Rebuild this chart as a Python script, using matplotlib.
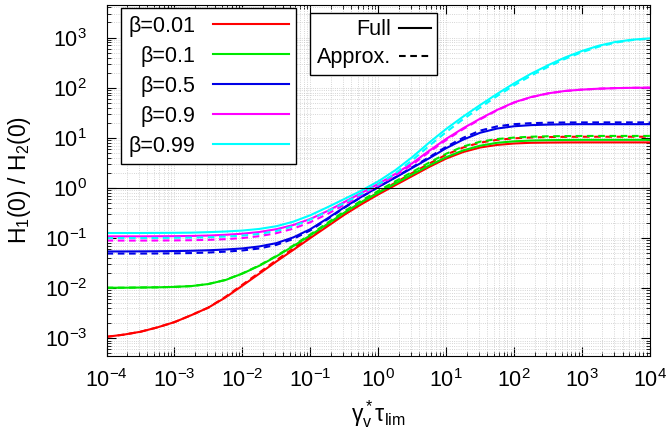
import numpy as np
import matplotlib.pyplot as plt
from matplotlib.lines import Line2D
from matplotlib.ticker import LogLocator, NullFormatter

plt.rcParams['font.family'] = ['Liberation Sans', 'DejaVu Sans']
plt.rcParams['mathtext.fontset'] = 'custom'
plt.rcParams['mathtext.rm'] = 'Liberation Sans'
plt.rcParams['mathtext.it'] = 'Liberation Sans'
plt.rcParams['mathtext.default'] = 'regular'

x = [1e-4, 1.78e-4, 3.16e-4, 5.62e-4,
     1e-3, 1.78e-3, 3.16e-3, 5.62e-3,
     1e-2, 1.78e-2, 3.16e-2, 5.62e-2,
     0.1, 0.178, 0.316, 0.562,
     1.0, 1.78, 3.16, 5.62,
     10.0, 17.8, 31.6, 56.2,
     100.0, 178.0, 316.0, 562.0,
     1e3, 1.78e3, 3.16e3, 5.62e3, 1e4]

labels = ['β=0.01', 'β=0.1', 'β=0.5', 'β=0.9', 'β=0.99']
colors = ['#ff0000', '#00e600', '#0000e6', '#ff00ff', '#00ffff']

full_001 = [1.07e-3, 1.18e-3, 1.35e-3, 1.65e-3, 2.1e-3, 2.9e-3, 4.1e-3, 6.5e-3,
            0.0112, 0.0195, 0.034, 0.058, 0.10, 0.17, 0.29, 0.47,
            0.74, 1.13, 1.72, 2.62, 3.85, 5.2, 6.4, 7.2,
            7.7, 7.95, 8.03, 8.08, 8.1, 8.1, 8.1, 8.1, 8.1]
approx_001 = [1.07e-3, 1.18e-3, 1.35e-3, 1.65e-3, 2.1e-3, 2.9e-3, 4.1e-3, 6.7e-3,
              0.0117, 0.0205, 0.036, 0.062, 0.107, 0.183, 0.31, 0.51,
              0.81, 1.27, 1.98, 3.05, 4.6, 6.4, 8.0, 9.1,
              9.75, 10.15, 10.35, 10.45, 10.5, 10.5, 10.5, 10.5, 10.5]
full_01 = [0.0102, 0.0102, 0.0103, 0.0104, 0.0106, 0.011, 0.0121, 0.0145,
           0.0195, 0.028, 0.043, 0.069, 0.113, 0.19, 0.32, 0.52,
           0.8, 1.22, 1.86, 2.8, 4.1, 5.6, 6.95, 7.95,
           8.5, 8.82, 8.98, 9.05, 9.1, 9.1, 9.1, 9.1, 9.1]
approx_01 = [0.0102, 0.0102, 0.0103, 0.0104, 0.0106, 0.011, 0.0121, 0.0146,
             0.0197, 0.0285, 0.044, 0.071, 0.118, 0.2, 0.34, 0.555,
             0.87, 1.35, 2.08, 3.2, 4.8, 6.7, 8.35, 9.45,
             10.1, 10.5, 10.72, 10.83, 10.88, 10.9, 10.9, 10.9, 10.9]
full_05 = [0.054, 0.054, 0.0542, 0.0545, 0.055, 0.0557, 0.057, 0.059,
           0.062, 0.068, 0.079, 0.103, 0.15, 0.245, 0.41, 0.66,
           1.04, 1.6, 2.5, 3.9, 6.2, 9.2, 12.6, 15.3,
           17.0, 17.9, 18.35, 18.6, 18.7, 18.7, 18.7, 18.7, 18.7]
approx_05 = [0.049, 0.049, 0.049, 0.0492, 0.0495, 0.0501, 0.0514, 0.0535,
             0.0565, 0.062, 0.073, 0.096, 0.142, 0.235, 0.4, 0.655,
             1.04, 1.63, 2.58, 4.1, 6.6, 10.0, 13.9, 16.9,
             18.7, 19.6, 20.0, 20.2, 20.27, 20.3, 20.3, 20.3, 20.3]
full_09 = [0.108, 0.108, 0.108, 0.1085, 0.109, 0.11, 0.112, 0.116,
           0.122, 0.132, 0.15, 0.182, 0.24, 0.345, 0.52, 0.79,
           1.2, 1.9, 3.1, 5.5, 9.5, 15.5, 24.0, 36.0,
           51.0, 65.0, 77.0, 86.0, 91.5, 95.5, 98.0, 99.3, 100.0]
approx_09 = [0.089, 0.089, 0.089, 0.0893, 0.0897, 0.0905, 0.092, 0.095,
             0.1, 0.109, 0.125, 0.154, 0.207, 0.3, 0.46, 0.72,
             1.11, 1.77, 2.9, 5.2, 9.0, 14.9, 23.3, 35.3,
             50.3, 64.5, 76.7, 85.8, 91.4, 95.5, 98.0, 99.3, 100.0]
full_099 = [0.126, 0.126, 0.126, 0.1265, 0.127, 0.128, 0.131, 0.135,
            0.141, 0.152, 0.172, 0.212, 0.285, 0.41, 0.6, 0.88,
            1.35, 2.25, 4.1, 8.0, 15.0, 26.5, 45.0, 75.0,
            122.0, 190.0, 280.0, 400.0, 540.0, 690.0, 820.0, 910.0, 960.0]
approx_099 = [0.1, 0.1, 0.1, 0.1005, 0.101, 0.102, 0.104, 0.107,
              0.112, 0.121, 0.138, 0.172, 0.235, 0.34, 0.5, 0.76,
              1.17, 1.95, 3.55, 6.9, 13.0, 23.5, 40.0, 68.0,
              111.0, 174.0, 260.0, 375.0, 510.0, 660.0, 795.0, 895.0, 950.0]

fulls = [full_001, full_01, full_05, full_09, full_099]
approxs = [approx_001, approx_01, approx_05, approx_09, approx_099]

fig, ax = plt.subplots(figsize=(6.7, 4.38), dpi=100)
fig.subplots_adjust(left=0.159, right=0.970, top=0.989, bottom=0.188)

handles = []
for lab, col, f, a in zip(labels, colors, fulls, approxs):
    h, = ax.plot(x, f, color=col, lw=1.5, label=lab)
    ax.plot(x, a, color=col, lw=1.5, ls=(0, (3.2, 2.2)))
    handles.append(h)

ax.axhline(1, color='black', lw=0.8)

ax.set_xscale('log')
ax.set_yscale('log')
ax.set_xlim(1e-4, 1e4)
ax.set_ylim(4.5e-4, 4.5e3)
ax.set_xticks(10.0 ** np.arange(-4, 5))
ax.set_yticks(10.0 ** np.arange(-3, 4))
ax.xaxis.set_minor_locator(LogLocator(base=10, subs=np.arange(2, 10), numticks=20))
ax.yaxis.set_minor_locator(LogLocator(base=10, subs=np.arange(2, 10), numticks=20))
ax.xaxis.set_minor_formatter(NullFormatter())
ax.yaxis.set_minor_formatter(NullFormatter())
ax.grid(which='both', color='#c8c8c8', ls=':', lw=0.6)
ax.set_axisbelow(True)
ax.tick_params(which='both', direction='in', top=True, right=True, labelsize=15.5)
ax.tick_params(which='major', length=6.5)
ax.tick_params(which='minor', length=3.2)
ax.tick_params(axis='y', pad=14)
ax.tick_params(axis='x', pad=10)

ax.set_ylabel('H$_1$(0) / H$_2$(0)', fontsize=16.5, labelpad=8)
ax.set_xlabel(r'$\mathregular{γ_v^*τ_{lim}}$', fontsize=16.5, labelpad=4)

leg1 = ax.legend(handles, labels, loc='upper left', bbox_to_anchor=(0.026, 0.991),
                 borderaxespad=0, markerfirst=False, handlelength=3.5, handletextpad=0.85,
                 borderpad=0.35, fontsize=15.5, fancybox=False, edgecolor='black',
                 framealpha=1, labelspacing=0.42)
leg1.get_frame().set_linewidth(1.0)
ax.add_artist(leg1)

style_handles = [Line2D([], [], color='black', lw=1.5),
                 Line2D([], [], color='black', lw=1.5, ls=(0, (3.2, 2.2)))]
leg2 = ax.legend(style_handles, ['Full', 'Approx.'], loc='upper left',
                 bbox_to_anchor=(0.375, 0.977), borderaxespad=0, markerfirst=False,
                 handlelength=1.5, handletextpad=0.35, borderpad=0.3, fontsize=15.5,
                 fancybox=False, edgecolor='black', framealpha=1, labelspacing=0.33)
leg2.get_frame().set_linewidth(1.0)

fig.savefig('out.png', dpi=100)
